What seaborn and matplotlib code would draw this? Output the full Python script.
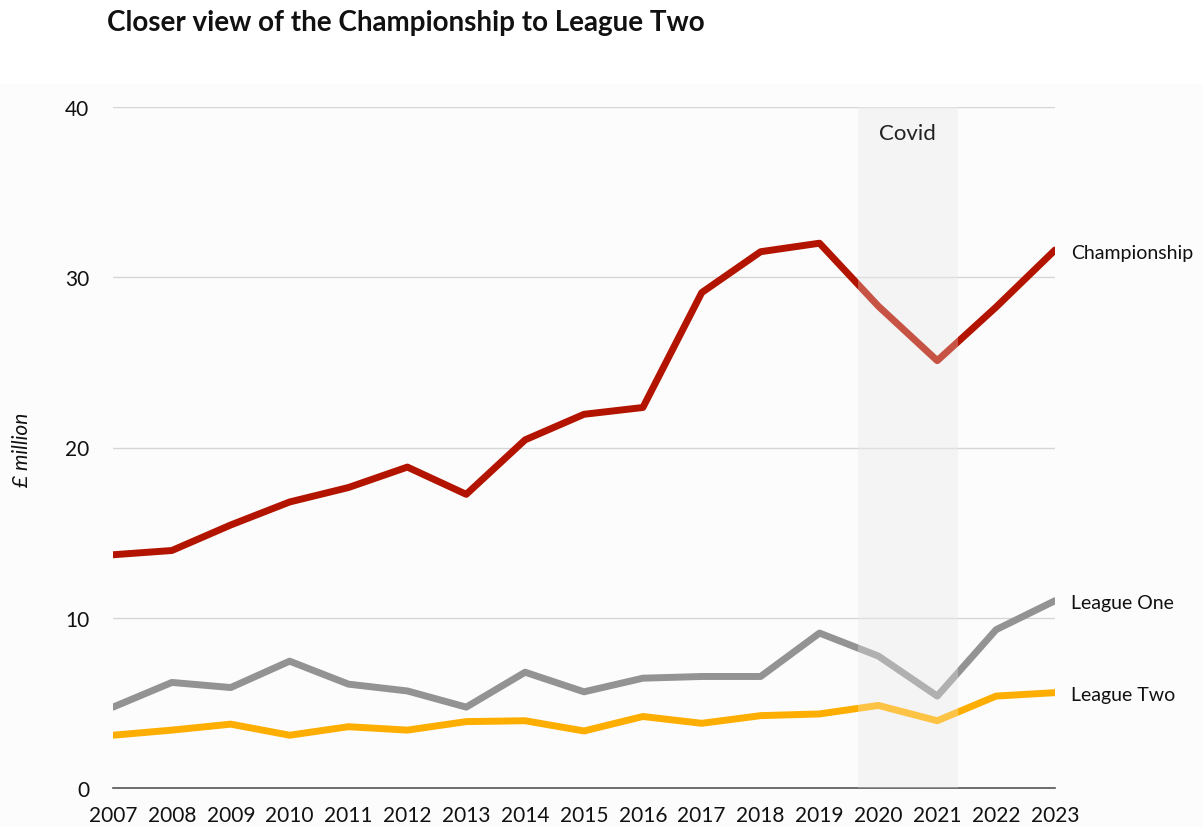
import numpy as np
import pandas as pd
import matplotlib
matplotlib.use("Agg")
import matplotlib.pyplot as plt
import seaborn as sns
from matplotlib.patches import Rectangle

years = list(range(2007, 2024))
championship = [13.7, 13.95, 15.45, 16.8, 17.65, 18.85, 17.25, 20.45, 21.95, 22.35,
                29.1, 31.5, 32.0, 28.3, 25.1, 28.25, 31.6]
league_one = [4.75, 6.2, 5.9, 7.45, 6.1, 5.7, 4.75, 6.8, 5.65, 6.45,
              6.55, 6.55, 9.1, 7.75, 5.4, 9.3, 11.0]
league_two = [3.1, 3.4, 3.75, 3.1, 3.6, 3.4, 3.9, 3.95, 3.35, 4.2,
              3.8, 4.25, 4.35, 4.85, 3.95, 5.4, 5.6]
series_names = ["Championship", "League One", "League Two"]
colors = ["#b31400", "#939393", "#fdae00"]
covid_span = (2019.65, 2021.35)
yticks = [0, 10, 20, 30, 40]

df = pd.DataFrame({
    "year": years * 3,
    "value": championship + league_one + league_two,
    "league": sum([[n] * len(years) for n in series_names], []),
})

sns.set_theme(style="white")
plt.rcParams["font.family"] = ["Lato", "DejaVu Sans"]

fig = plt.figure(figsize=(12.02, 8.28), dpi=100)
fig.patches.append(Rectangle((0, 0), 1, 1 - 85 / 828, transform=fig.transFigure,
                             facecolor="#fcfcfc", edgecolor="none", zorder=-10))
ax = fig.add_axes([113 / 1202, 1 - 789 / 828, (1055 - 113) / 1202, (789 - 108) / 828])
ax.set_facecolor("none")

ax.axvspan(*covid_span, color="#f0f0f0", zorder=0, lw=0)
sns.lineplot(data=df, x="year", y="value", hue="league", palette=colors,
             linewidth=5, legend=False, ax=ax, zorder=2)
ax.axvspan(*covid_span, color="white", alpha=0.27, zorder=3, lw=0)

ax.set_xlim(2007, 2023)
ax.set_ylim(0, 40)
ax.set_yticks(yticks)
ax.set_xticks(years)
ax.grid(axis="y", color="#d5d5d5", linewidth=1)
ax.grid(axis="x", visible=False)
for s in ["top", "right", "left"]:
    ax.spines[s].set_visible(False)
ax.spines["bottom"].set_color("#555555")
ax.spines["bottom"].set_linewidth(1.2)
ax.tick_params(axis="both", length=0, labelsize=15, colors="#111111")
ax.tick_params(axis="x", pad=12)
ax.tick_params(axis="y", pad=17)
ax.set_xlabel("")
ax.set_ylabel("")
fig.text(22 / 1202, 1 - 450 / 828, "£ million", fontsize=15, style="italic",
         rotation=90, ha="center", va="center", color="#111111")

last_vals = [championship[-1], league_one[-1], league_two[-1]]
for name, v in zip(series_names, last_vals):
    ax.text(2023.27, v - 0.12, name, fontsize=14, va="center", ha="left",
            color="#111111", clip_on=False)

ax.text(sum(covid_span) / 2, 38.45, "Covid", fontsize=16, ha="center", va="center",
        color="#222222", zorder=4)

fig.text(107 / 1202, 1 - 23 / 828, "Closer view of the Championship to League Two",
         fontsize=20, fontweight="bold", ha="left", va="center", color="#111111")

fig.savefig("out.png", dpi=100, facecolor="white")
